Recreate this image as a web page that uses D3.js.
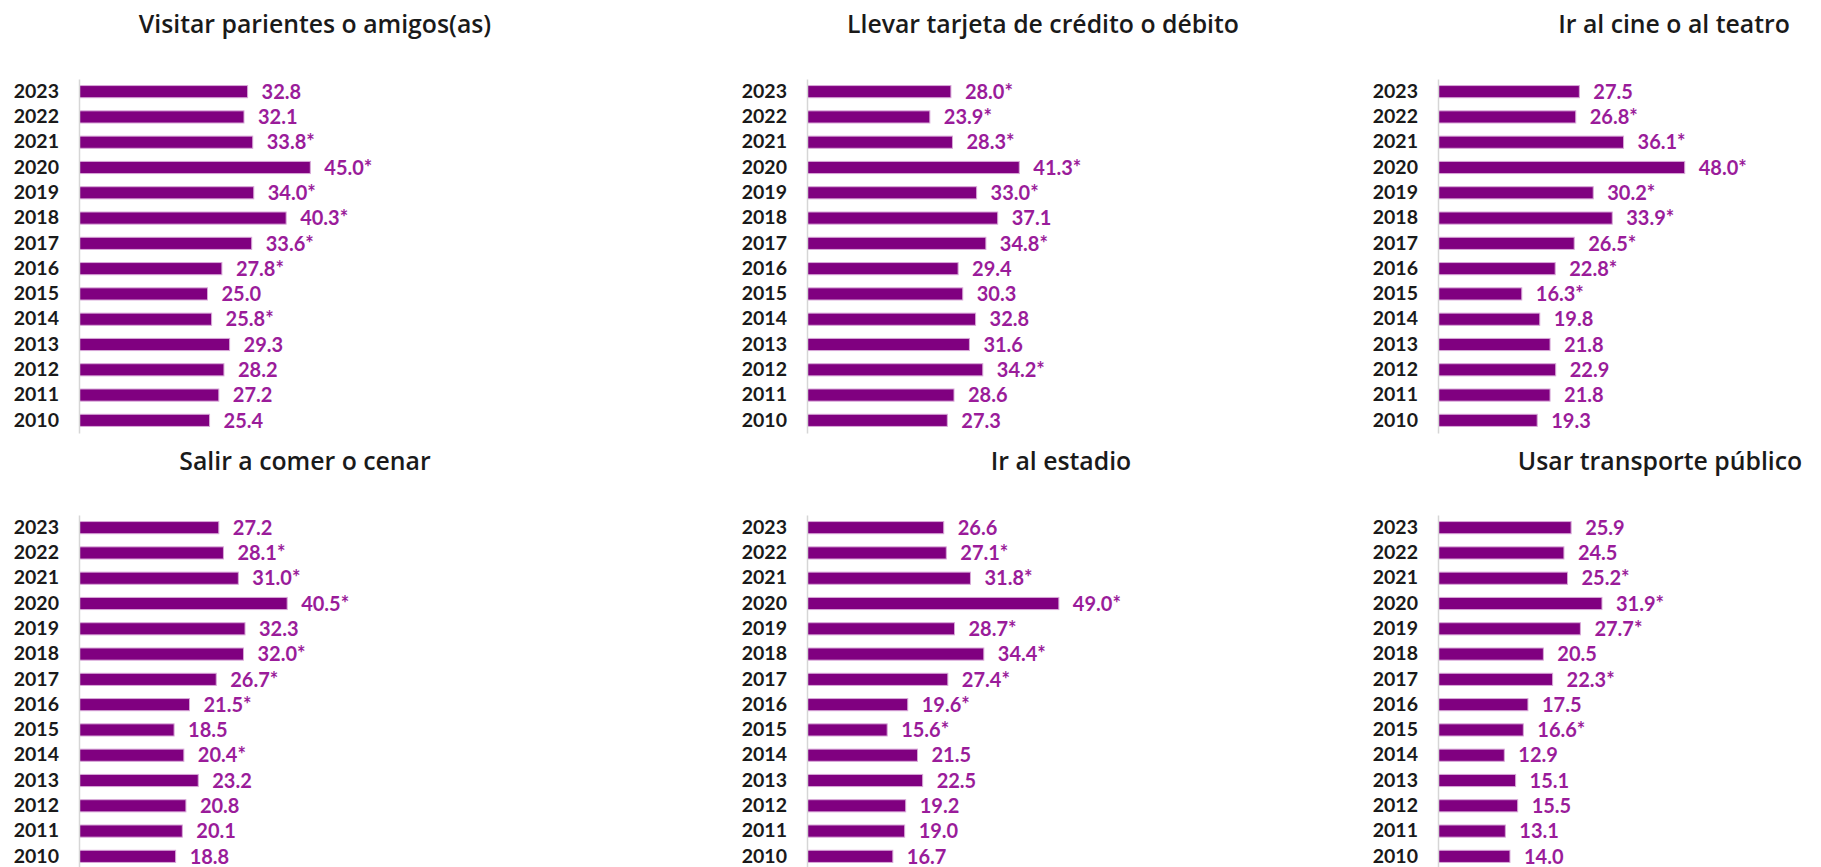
<!DOCTYPE html>
<html lang="es">
<head>
<meta charset="utf-8">
<script src="https://cdn.jsdelivr.net/npm/d3@7"></script>
<style>
  html, body { margin: 0; padding: 0; background: #ffffff; }
  svg { display: block; }
  .title { font-family: "Open Sans", Lato, sans-serif; font-weight: 600; fill: #1a1a1a; }
  .year-axis text { font-family: Lato, "Open Sans", sans-serif; font-weight: 700; fill: #1a1a1a; }
  .value { font-family: Lato, "Open Sans", sans-serif; font-weight: 700; fill: #9a1c9a; }
</style>
</head>
<body>
<svg id="chart" width="1821" height="867"></svg>
<script>
// Years, listed top to bottom
const years = ["2023", "2022", "2021", "2020", "2019", "2018", "2017",
               "2016", "2015", "2014", "2013", "2012", "2011", "2010"];

// Percentages per activity (same order as years)
const visitarParientes = [32.8, 32.1, 33.8, 45.0, 34.0, 40.3, 33.6, 27.8, 25.0, 25.8, 29.3, 28.2, 27.2, 25.4];
const llevarTarjeta    = [28.0, 23.9, 28.3, 41.3, 33.0, 37.1, 34.8, 29.4, 30.3, 32.8, 31.6, 34.2, 28.6, 27.3];
const irCineTeatro     = [27.5, 26.8, 36.1, 48.0, 30.2, 33.9, 26.5, 22.8, 16.3, 19.8, 21.8, 22.9, 21.8, 19.3];
const salirComer       = [27.2, 28.1, 31.0, 40.5, 32.3, 32.0, 26.7, 21.5, 18.5, 20.4, 23.2, 20.8, 20.1, 18.8];
const irEstadio        = [26.6, 27.1, 31.8, 49.0, 28.7, 34.4, 27.4, 19.6, 15.6, 21.5, 22.5, 19.2, 19.0, 16.7];
const usarTransporte   = [25.9, 24.5, 25.2, 31.9, 27.7, 20.5, 22.3, 17.5, 16.6, 12.9, 15.1, 15.5, 13.1, 14.0];

// Statistically significant change flags (shown with an asterisk)
const sigVisitar    = [0, 0, 1, 1, 1, 1, 1, 1, 0, 1, 0, 0, 0, 0];
const sigTarjeta    = [1, 1, 1, 1, 1, 0, 1, 0, 0, 0, 0, 1, 0, 0];
const sigCine       = [0, 1, 1, 1, 1, 1, 1, 1, 1, 0, 0, 0, 0, 0];
const sigComer      = [0, 1, 1, 1, 0, 1, 1, 1, 0, 1, 0, 0, 0, 0];
const sigEstadio    = [0, 1, 1, 1, 1, 1, 1, 1, 1, 0, 0, 0, 0, 0];
const sigTransporte = [0, 0, 1, 1, 1, 0, 1, 0, 1, 0, 0, 0, 0, 0];

// Panel titles
const titles = [
  "Visitar parientes o amigos(as)",
  "Llevar tarjeta de crédito o débito",
  "Ir al cine o al teatro",
  "Salir a comer o cenar",
  "Ir al estadio",
  "Usar transporte público"
];

const seriesList = [visitarParientes, llevarTarjeta, irCineTeatro, salirComer, irEstadio, usarTransporte];
const sigList = [sigVisitar, sigTarjeta, sigCine, sigComer, sigEstadio, sigTransporte];

// Layout: 3 columns x 2 rows of small bar charts
const axisX = [79, 807, 1438];
const plotTop = [79, 515];
const titleCenter = [[315, 1043, 1674], [305, 1061, 1660]];
const titleBaseline = [33, 470];
const plotHeight = 354;

const svg = d3.select("#chart");

// Shared horizontal scale for all panels
const x = d3.scaleLinear().domain([0, 50]).range([0, 257]);

const y = d3.scaleBand()
  .domain(years)
  .range([0, plotHeight])
  .paddingInner(0.48)
  .paddingOuter(0.24);

seriesList.forEach((values, i) => {
  const col = i % 3, row = Math.floor(i / 3);
  const sig = sigList[i];

  svg.append("text")
    .attr("class", "title")
    .attr("x", titleCenter[row][col])
    .attr("y", titleBaseline[row])
    .attr("text-anchor", "middle")
    .attr("font-size", 24.8)
    .text(titles[i]);

  const g = svg.append("g")
    .attr("transform", `translate(${axisX[col]},${plotTop[row]})`);

  const rows = years.map((yr, k) => ({ year: yr, value: values[k], sig: sig[k] }));

  g.selectAll("rect.bar")
    .data(rows)
    .join("rect")
    .attr("class", "bar")
    .attr("x", x(0) + 0.5)
    .attr("y", d => y(d.year) + 0.5)
    .attr("width", d => x(d.value) - 0.5)
    .attr("height", y.bandwidth() - 1)
    .attr("fill", "#800080")
    .attr("stroke", "#d8a8d8")
    .attr("stroke-width", 1);

  g.selectAll("text.value")
    .data(rows)
    .join("text")
    .attr("class", "value")
    .attr("x", d => x(d.value) + 14)
    .attr("y", d => y(d.year) + y.bandwidth() / 2)
    .attr("dy", "0.36em")
    .attr("font-size", 20)
    .text(d => d.value.toFixed(1) + (d.sig ? "*" : ""));

  const axis = g.append("g")
    .attr("class", "year-axis")
    .call(d3.axisLeft(y).tickSize(0).tickSizeOuter(0).tickPadding(20));
  axis.select(".domain").attr("stroke", "#d6d6d6").attr("stroke-width", 1.5);
  axis.selectAll("text").attr("font-size", 19.5).attr("font-family", null);
});
</script>
</body>
</html>
